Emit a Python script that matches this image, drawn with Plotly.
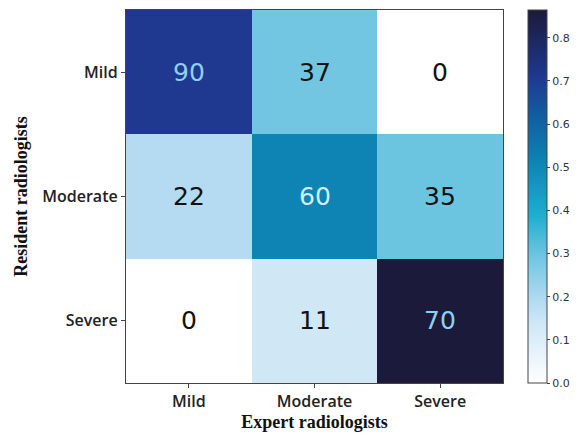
import numpy as np
import plotly.graph_objects as go

# Confusion matrix: rows = resident radiologists, columns = expert radiologists
categories = ["Mild", "Moderate", "Severe"]
counts = [
    [90, 37, 0],
    [22, 60, 35],
    [0, 11, 70],
]
colorbar_ticks = [0.0, 0.1, 0.2, 0.3, 0.4, 0.5, 0.6, 0.7, 0.8]

counts_arr = np.array(counts, dtype=float)
rates = counts_arr / counts_arr.sum(axis=1, keepdims=True)
zmax = float(rates.max())

# white -> sky blue -> cyan -> deep blue -> navy
colorscale = [
    [0.00, "#ffffff"],
    [0.16, "#cfe7f6"],
    [0.22, "#b3dbf1"],
    [0.34, "#70c5e1"],
    [0.45, "#1eaed0"],
    [0.60, "#0c82b2"],
    [0.72, "#125c9f"],
    [0.82, "#1e398f"],
    [1.00, "#1b1a3a"],
]

fig = go.Figure(
    go.Heatmap(
        z=rates,
        x=categories,
        y=categories,
        zmin=0,
        zmax=zmax,
        colorscale=colorscale,
        hoverinfo="skip",
        colorbar=dict(
            x=1.066,
            xanchor="left",
            xpad=0,
            y=0,
            yanchor="bottom",
            ypad=0,
            len=1,
            lenmode="fraction",
            thickness=19,
            outlinewidth=1,
            outlinecolor="#444444",
            tickvals=colorbar_ticks,
            ticktext=[f"{t:.1f}" for t in colorbar_ticks],
            ticks="outside",
            ticklen=3,
            tickcolor="#444444",
            tickfont=dict(family="DejaVu Sans", size=11, color="#333333"),
        ),
    )
)

# Cell labels: light text on dark cells, black on light ones
for i, row_name in enumerate(categories):
    for j, col_name in enumerate(categories):
        if rates[i, j] > 0.6:
            color = "#8fd0f2"
        elif rates[i, j] > 0.45:
            color = "#d6eef6"
        else:
            color = "#111111"
        fig.add_annotation(
            x=col_name,
            y=row_name,
            text=str(counts[i][j]),
            showarrow=False,
            font=dict(family="DejaVu Sans", size=25, color=color),
        )

axis_common = dict(
    showline=True,
    mirror=True,
    linecolor="#444444",
    linewidth=1.2,
    ticks="outside",
    ticklen=4,
    tickcolor="#444444",
    showgrid=False,
    zeroline=False,
    tickfont=dict(family="Open Sans", size=16, color="#222222", weight=600),
)

fig.update_layout(
    width=585,
    height=438,
    margin=dict(l=126, r=82, t=9, b=51),
    paper_bgcolor="white",
    plot_bgcolor="white",
    xaxis=dict(
        **axis_common,
        title=dict(
            text="<b>Expert radiologists</b>",
            font=dict(family="Liberation Serif", size=18, color="#111111"),
            standoff=4,
        ),
    ),
    yaxis=dict(
        **axis_common,
        autorange="reversed",
        title=dict(
            text="<b>Resident radiologists</b>",
            font=dict(family="Liberation Serif", size=18, color="#111111"),
            standoff=9,
        ),
    ),
)

fig.write_html("out.html")
